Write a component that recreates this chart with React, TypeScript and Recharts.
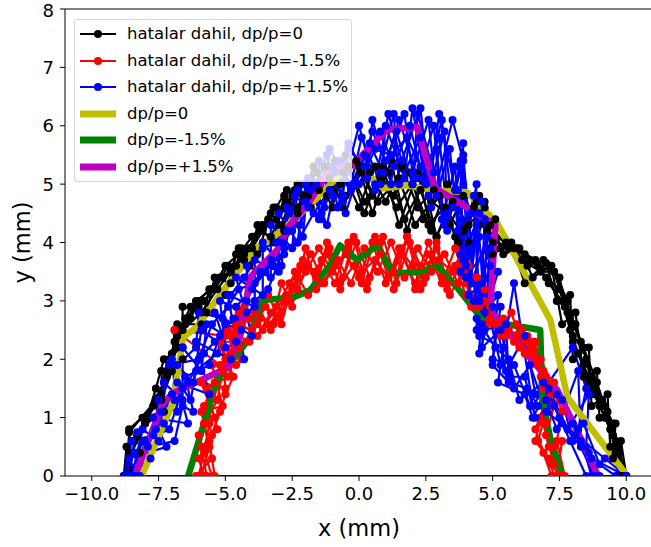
import React from 'react';
import { LineChart, Line, XAxis, YAxis, ReferenceLine } from 'recharts';

// reference curves (no errors)
const yellowRef = [
  [-8.13, 0], [-6.96, 1.25], [-6.58, 2.38], [-6.07, 2.55], [-5.08, 3.18], [-3.81, 3.92],
  [-3.21, 4.09], [-2.65, 4.3], [-1.45, 4.81], [-0.33, 5.36], [0.04, 5.29], [0.9, 4.93],
  [1.8, 4.98], [2.66, 4.9], [4.05, 4.86], [5.17, 4.33], [7.16, 2.67], [7.8, 1.35], [10.04, 0],
];
const greenRef = [
  [-6.39, 0], [-5.31, 1.64], [-4.45, 2.15], [-4.07, 2.38], [-3.63, 3.01], [-2.47, 3.06],
  [-1.83, 3.18], [-1.08, 3.61], [-0.71, 3.95], [-0.07, 3.7], [0.68, 3.95], [1.28, 3.47],
  [2.17, 3.49], [2.96, 3.59], [3.67, 3.23], [4.64, 2.67], [6.78, 2.5], [6.86, 1.3],
  [7.15, 0.66], [7.6, 0],
];
const magentaRef = [
  [-8.38, 0], [-7.33, 1.25], [-6.96, 1.42], [-4.94, 1.85], [-4.45, 2.38], [-4.07, 3.41],
  [-3.06, 3.87], [-2.65, 4.26], [-1.83, 4.72], [-1.08, 5.24], [-0.22, 5.33], [1.05, 5.93],
  [2.17, 5.98], [2.85, 4.93], [3.79, 4.67], [5.1, 4.3], [4.91, 2.83], [7.42, 1.47],
  [8.39, 0.56], [8.95, 0],
];

// runs with errors, dp/p = 0
const blackRuns = [
  [[-8.7,0],[-8.6,0.75],[-7.5,1.35],[-7.2,1.8],[-6.9,2.3],[-6.5,2.6],[-6.1,3.0],[-5.5,3.2],[-5.0,3.6],[-4.5,3.8],[-4.0,4.1],[-3.6,4.3],[-3.1,4.6],[-2.7,4.9],[-2.1,4.8],[-1.6,5.2],[-1.0,4.9],[-0.4,5.3],[0.2,4.7],[0.8,5.1],[1.4,4.6],[2.0,5.0],[2.6,4.3],[3.2,4.6],[3.8,4.2],[4.4,4.7],[5.0,4.0],[5.7,3.95],[6.3,3.6],[6.9,3.7],[7.5,3.4],[7.8,2.8],[8.0,2.3],[8.4,1.9],[8.8,1.5],[9.2,1.0],[9.6,0.6],[9.8,0]],
  [[-8.6,0],[-8.4,0.6],[-7.7,1.2],[-7.3,1.6],[-7.0,2.1],[-6.6,2.5],[-5.9,2.8],[-5.3,3.2],[-4.8,3.5],[-4.3,3.8],[-3.7,4.2],[-3.3,4.1],[-2.8,4.6],[-2.4,4.9],[-1.9,4.8],[-1.3,5.3],[-0.7,5.0],[-0.1,5.4],[0.5,4.8],[1.1,5.2],[1.7,4.4],[2.3,4.9],[2.9,4.1],[3.5,4.7],[4.1,4.3],[4.7,4.6],[5.3,3.9],[5.9,3.9],[6.6,3.7],[7.1,3.3],[7.6,3.0],[7.9,2.5],[8.2,2.1],[8.6,1.6],[9.0,1.2],[9.4,0.8],[9.7,0.4],[9.9,0]],
  [[-8.8,0],[-8.5,0.4],[-7.9,1.0],[-7.4,1.4],[-7.1,1.9],[-6.8,2.4],[-6.3,2.9],[-5.8,3.0],[-5.1,3.4],[-4.6,3.6],[-4.1,3.9],[-3.6,4.3],[-3.1,4.4],[-2.7,4.7],[-2.3,4.6],[-1.8,5.1],[-1.2,4.8],[-0.6,5.2],[0.0,4.6],[0.6,5.3],[1.3,4.8],[1.9,5.2],[2.4,4.4],[3.0,4.8],[3.6,4.1],[4.2,4.5],[4.8,4.2],[5.5,4.0],[6.1,3.7],[6.8,3.5],[7.3,3.5],[7.7,2.9],[8.1,2.6],[8.5,2.0],[8.8,1.4],[9.3,1.1],[9.6,0.4],[9.7,0]],
  [[-8.7,0],[-8.3,0.7],[-7.6,1.3],[-7.2,1.7],[-6.8,2.2],[-6.5,2.7],[-6.0,2.9],[-5.4,3.2],[-4.9,3.6],[-4.3,3.7],[-3.9,4.1],[-3.4,4.4],[-2.9,4.3],[-2.5,4.8],[-2.0,5.0],[-1.5,4.9],[-0.9,5.4],[-0.3,4.9],[0.4,5.2],[1.0,4.7],[1.6,5.3],[2.2,4.6],[2.8,4.9],[3.4,4.3],[3.9,4.8],[4.5,4.3],[5.1,4.4],[5.8,3.9],[6.4,3.7],[7.0,3.4],[7.5,3.2],[7.9,2.7],[8.3,2.3],[8.7,1.7],[9.1,1.3],[9.5,0.9],[9.7,0.5],[10.0,0]],
  [[-8.5,0],[-8.6,0.8],[-7.4,1.3],[-7.0,1.8],[-6.9,2.5],[-6.3,2.7],[-6.0,3.0],[-5.2,3.4],[-4.8,3.5],[-4.5,3.9],[-4.0,3.9],[-3.6,4.2],[-3.2,4.6],[-2.6,4.5],[-2.1,5.0],[-1.7,5.0],[-1.1,5.1],[-0.5,4.8],[0.1,5.2],[0.7,4.7],[1.5,5.1],[2.1,4.3],[2.7,4.7],[3.3,4.5],[3.7,4.0],[4.3,4.6],[4.9,4.3],[5.6,3.9],[6.2,3.8],[6.7,3.6],[7.3,3.5],[7.8,3.0],[8.0,2.4],[8.4,2.2],[8.9,1.6],[9.2,1.2],[9.5,0.7],[9.8,0]],
  [[-8.8,0],[-8.7,0.5],[-8.0,0.9],[-7.6,1.5],[-7.3,2.0],[-6.6,2.2],[-6.6,2.9],[-5.7,2.8],[-5.4,3.4],[-4.8,3.3],[-4.4,3.9],[-3.8,3.8],[-3.3,4.5],[-2.8,4.2],[-2.3,5.0],[-1.8,4.6],[-1.2,5.3],[-0.6,4.6],[0.0,5.3],[0.5,4.5],[1.2,5.4],[1.8,4.2],[2.4,5.1],[2.9,4.1],[3.6,4.9],[4.1,4.0],[4.7,4.7],[5.4,3.8],[6.0,3.9],[6.5,3.4],[7.2,3.6],[7.6,2.6],[8.1,2.8],[8.4,1.7],[8.9,1.8],[9.0,1.0],[9.6,0.9],[9.5,0.3],[9.9,0]],
  [[-8.6,0],[-8.2,0.4],[-8.1,1.0],[-7.3,1.1],[-7.4,1.8],[-6.6,2.0],[-6.8,2.6],[-5.9,2.6],[-5.6,3.2],[-5.0,3.1],[-4.6,3.8],[-4.1,3.6],[-3.8,4.3],[-3.2,4.0],[-2.8,4.8],[-2.3,4.5],[-1.7,5.3],[-1.0,4.6],[-0.5,5.5],[0.2,4.5],[0.9,5.3],[1.5,4.3],[2.2,5.2],[2.7,4.2],[3.3,5.0],[3.9,4.2],[4.5,4.8],[5.0,3.8],[5.7,4.0],[6.2,3.3],[7.0,3.65],[7.4,3.0],[7.9,3.1],[8.0,2.0],[8.6,2.2],[8.7,1.2],[9.3,1.4],[9.4,0.5],[9.8,0.6],[10.0,0]],
];

// runs with errors, dp/p = -1.5%
const redRuns = [
  [[-6.0,0],[-5.8,0.4],[-5.6,0.9],[-5.5,1.4],[-5.2,1.9],[-6.9,2.5],[-5.0,2.4],[-4.6,2.5],[-4.1,2.7],[-3.6,2.5],[-3.1,2.9],[-2.6,3.3],[-2.1,3.7],[-1.6,3.4],[-1.1,3.9],[-0.6,3.4],[-0.1,4.0],[0.4,3.4],[0.9,4.1],[1.4,3.3],[1.9,4.0],[2.4,3.3],[2.9,3.9],[3.4,3.1],[3.9,3.5],[4.3,3.0],[4.8,2.8],[5.4,2.6],[5.9,2.4],[6.4,2.2],[6.9,1.8],[7.2,1.4],[7.0,0.9],[7.3,0.5],[7.5,0]],
  [[-5.7,0],[-5.9,0.5],[-5.3,0.8],[-5.7,1.5],[-4.9,1.7],[-4.5,2.2],[-4.4,2.6],[-3.8,2.4],[-3.3,2.8],[-2.8,3.0],[-2.3,3.4],[-1.8,3.8],[-1.3,3.3],[-0.8,3.7],[-0.3,3.3],[0.2,3.9],[0.7,3.5],[1.2,4.0],[1.7,3.4],[2.2,3.9],[2.7,3.5],[3.2,3.8],[3.7,3.3],[4.1,3.6],[4.5,2.9],[5.1,2.6],[5.6,2.5],[6.2,2.3],[6.6,2.0],[7.1,1.5],[6.8,1.0],[6.6,0.6],[7.1,0.3],[7.3,0]],
  [[-5.4,0],[-5.6,0.6],[-5.2,1.1],[-5.0,1.4],[-4.7,1.7],[-5.2,2.3],[-4.2,2.3],[-3.9,2.8],[-3.4,2.6],[-2.9,2.8],[-2.5,3.2],[-2.0,3.5],[-1.5,3.9],[-1.0,3.5],[-0.5,3.8],[0.0,3.4],[0.5,4.0],[1.0,3.3],[1.6,3.8],[2.1,3.3],[2.6,4.0],[3.1,3.4],[3.6,3.6],[4.0,3.1],[4.4,3.4],[4.9,2.7],[5.4,2.5],[5.9,2.6],[6.3,2.1],[6.8,2.0],[7.2,1.6],[7.6,1.1],[7.4,0.6],[7.7,0]],
  [[-6.1,0],[-5.5,0.3],[-5.8,0.9],[-5.3,1.3],[-5.1,1.8],[-4.8,2.1],[-4.6,2.6],[-4.0,2.5],[-3.5,2.9],[-3.0,2.7],[-2.6,3.0],[-2.2,3.6],[-1.7,3.5],[-1.2,3.8],[-0.7,3.3],[-0.2,3.6],[0.3,3.3],[0.8,3.8],[1.3,3.5],[1.8,4.1],[2.3,3.6],[2.8,3.7],[3.3,3.2],[3.8,3.6],[4.2,3.3],[4.7,3.0],[5.2,2.6],[5.8,2.3],[6.3,2.4],[6.7,1.9],[7.0,1.3],[6.6,0.8],[6.9,0.4],[7.2,0]],
  [[-5.8,0],[-6.0,0.3],[-5.5,0.7],[-5.8,1.2],[-5.4,1.6],[-5.0,2.0],[-4.7,2.4],[-4.3,2.9],[-3.7,2.7],[-3.2,2.6],[-2.7,3.1],[-2.3,3.2],[-1.9,3.6],[-1.4,3.3],[-0.9,3.6],[-0.4,3.9],[0.1,3.5],[0.6,3.7],[1.1,3.4],[1.5,3.9],[2.0,3.6],[2.5,3.4],[3.0,3.7],[3.5,3.5],[4.0,3.4],[4.4,2.9],[4.9,2.9],[5.5,2.4],[6.1,2.5],[6.5,2.2],[7.0,1.7],[7.3,1.2],[7.0,0.7],[7.3,0.2],[7.6,0]],
  [[-5.9,0],[-5.6,0.5],[-5.9,1.1],[-5.1,1.2],[-5.5,1.9],[-4.6,1.9],[-4.9,2.5],[-4.1,2.3],[-3.9,3.0],[-3.3,2.5],[-2.9,3.3],[-2.5,2.9],[-2.0,3.9],[-1.6,3.2],[-1.2,4.0],[-0.7,3.2],[-0.2,4.1],[0.3,3.2],[0.8,4.0],[1.3,3.2],[1.8,4.1],[2.3,3.2],[2.9,4.0],[3.3,3.3],[3.8,3.8],[4.2,2.9],[4.7,3.2],[5.3,2.4],[5.7,2.8],[6.2,2.1],[6.6,2.3],[6.9,1.5],[7.5,1.3],[6.9,0.9],[7.1,0.5],[7.6,0.6],[7.4,0]],
  [[-5.5,0],[-6.0,0.7],[-5.4,1.0],[-5.9,1.6],[-5.0,1.5],[-5.1,2.2],[-4.4,2.0],[-4.5,2.8],[-3.8,2.6],[-3.4,3.1],[-2.9,2.6],[-2.4,3.5],[-1.9,3.1],[-1.4,3.7],[-0.9,3.3],[-0.4,4.0],[0.1,3.3],[0.6,4.1],[1.1,3.4],[1.6,3.9],[2.1,3.2],[2.6,3.8],[3.1,3.3],[3.6,3.9],[4.0,3.3],[4.4,3.4],[4.8,2.6],[5.4,2.7],[6.0,2.2],[6.5,2.3],[6.8,1.7],[7.3,1.6],[7.0,1.1],[6.7,0.6],[7.2,0.2],[7.5,0]],
];

// runs with errors, dp/p = +1.5%
const blueRuns = [
  [[-8.7,0],[-8.3,0.75],[-7.4,1.1],[-7.1,1.9],[-6.0,2.0],[-5.5,2.6],[-4.9,2.9],[-4.5,3.2],[-3.9,3.3],[-3.3,3.7],[-2.8,3.8],[-2.4,4.8],[-1.9,4.6],[-1.2,5.5],[-0.8,4.6],[0.0,6.0],[0.6,5.0],[1.1,6.2],[1.6,5.4],[2.3,6.3],[2.7,4.6],[3.5,6.1],[3.9,5.4],[4.1,3.4],[4.4,4.3],[4.4,2.5],[4.6,3.3],[5.3,1.9],[5.8,3.3],[6.5,1.2],[8.0,2.2],[8.5,1.5],[8.2,0.8],[8.7,0]],
  [[-8.5,0],[-7.9,0.5],[-6.9,0.6],[-6.6,1.2],[-6.2,1.1],[-6.5,1.7],[-5.6,1.9],[-5.2,2.4],[-4.7,2.7],[-4.2,3.0],[-3.7,3.5],[-3.2,3.6],[-2.7,4.2],[-2.2,4.3],[-1.6,5.0],[-1.0,4.8],[-0.4,5.6],[0.2,5.3],[0.8,5.9],[1.3,5.3],[1.9,6.0],[2.4,5.1],[3.0,5.8],[3.3,4.5],[3.9,5.0],[4.1,3.8],[4.7,4.4],[4.5,2.1],[5.0,2.9],[5.5,1.8],[6.2,2.4],[6.6,1.4],[7.3,1.2],[7.9,0.6],[8.5,0]],
  [[-8.2,0],[-8.4,0.4],[-7.6,0.8],[-7.0,1.4],[-6.8,1.9],[-6.1,2.2],[-6.0,2.8],[-5.1,2.7],[-4.8,3.1],[-4.3,3.4],[-3.6,3.9],[-3.1,4.0],[-2.6,4.5],[-2.0,4.7],[-1.4,4.4],[-0.9,5.2],[-0.3,4.9],[0.4,5.7],[0.9,5.2],[1.5,6.1],[2.2,5.1],[2.8,6.0],[3.1,4.4],[3.6,5.3],[3.8,3.8],[4.3,4.8],[4.5,3.0],[4.9,3.6],[4.6,2.2],[5.3,2.5],[5.8,1.5],[6.4,1.9],[7.0,1.1],[7.6,0.9],[8.3,0.5],[8.8,0]],
  [[-8.6,0],[-7.8,0.3],[-7.3,0.9],[-6.9,1.3],[-6.4,1.6],[-5.8,2.1],[-5.4,2.3],[-4.3,2.0],[-4.6,2.9],[-4.0,3.2],[-3.5,3.5],[-2.9,4.0],[-2.5,4.2],[-1.8,4.9],[-1.2,4.3],[-0.7,5.4],[-0.1,5.0],[0.5,5.9],[1.0,5.4],[1.7,6.2],[2.0,5.2],[2.6,6.1],[2.9,4.8],[3.4,5.6],[3.7,4.2],[4.2,4.5],[4.0,3.4],[4.8,3.9],[4.4,2.7],[5.1,2.2],[5.6,2.0],[6.0,1.3],[6.9,1.6],[7.5,1.0],[8.1,0.7],[9.2,0.3],[10.0,0],[-8.6,0]],
  [[-8.4,0],[-8.0,0.6],[-7.1,0.8],[-6.6,1.5],[-6.3,1.3],[-6.1,1.8],[-5.3,2.1],[-5.0,2.6],[-4.4,2.5],[-3.9,3.0],[-3.4,3.2],[-2.8,3.9],[-2.3,4.0],[-1.7,4.5],[-1.1,4.9],[-0.6,4.7],[0.0,5.0],[0.6,5.6],[1.2,5.5],[1.8,5.8],[2.3,5.3],[2.9,5.6],[3.2,4.3],[3.7,4.9],[4.0,3.6],[4.5,4.1],[4.7,2.8],[5.2,3.1],[5.0,1.9],[5.6,1.6],[6.3,1.5],[6.7,1.2],[7.4,1.4],[8.0,0.9],[8.6,0.4],[9.0,0]],
  [[-8.8,0],[-8.5,0.6],[-7.7,0.7],[-7.5,1.3],[-6.8,1.1],[-7.0,2.0],[-6.2,1.6],[-5.9,2.5],[-5.0,2.2],[-5.2,3.0],[-4.2,2.8],[-4.2,3.6],[-3.3,3.4],[-3.3,4.3],[-2.5,3.9],[-2.3,4.9],[-1.5,4.4],[-1.5,5.4],[-0.6,4.8],[-0.4,5.7],[0.3,5.1],[0.5,6.1],[1.2,5.0],[1.4,5.9],[2.0,5.0],[2.2,6.2],[2.8,5.2],[3.2,5.9],[3.3,4.2],[3.9,5.5],[4.2,3.9],[4.6,4.7],[4.3,3.0],[4.9,3.9],[4.7,2.5],[5.5,2.6],[5.6,1.7],[6.2,1.7],[6.6,1.0],[7.6,1.3],[8.0,0.6],[8.4,0.9],[9.0,0.2],[9.6,0]],
  [[-8.3,0],[-8.6,0.3],[-7.2,0.5],[-7.7,1.0],[-6.4,0.9],[-6.8,1.6],[-5.6,1.4],[-6.1,2.3],[-4.8,2.0],[-5.4,2.8],[-4.0,2.4],[-4.6,3.4],[-3.6,3.1],[-3.6,4.0],[-2.9,3.6],[-2.7,4.6],[-2.1,4.1],[-1.9,5.1],[-1.3,4.6],[-1.1,5.6],[-0.3,5.0],[0.1,5.8],[0.8,5.0],[1.0,6.0],[1.7,5.1],[2.0,6.3],[2.5,5.0],[3.1,6.1],[3.5,4.6],[3.8,5.4],[3.9,3.7],[4.5,4.5],[4.1,3.1],[5.2,3.5],[4.5,2.4],[5.4,2.2],[5.2,1.6],[6.2,1.4],[6.5,1.0],[7.1,1.5],[7.8,0.8],[8.6,1.4],[8.5,0.5],[8.9,0]],
  [[-8.5,0],[-8.1,0.8],[-7.5,0.6],[-7.3,1.6],[-6.6,1.3],[-6.6,2.2],[-5.9,1.8],[-5.7,2.6],[-4.6,2.3],[-4.9,3.1],[-3.9,2.9],[-3.9,3.7],[-3.0,3.5],[-3.0,4.5],[-2.3,4.0],[-2.0,5.0],[-1.4,4.5],[-1.0,5.3],[-0.5,4.5],[0.2,5.5],[0.6,4.9],[1.3,6.2],[1.5,5.0],[2.3,5.8],[2.6,4.8],[3.0,6.2],[3.6,4.9],[3.9,5.7],[3.8,3.5],[4.4,5.0],[4.2,3.3],[4.8,4.1],[4.6,2.6],[5.3,2.9],[5.0,2.0],[5.8,1.9],[6.4,1.2],[7.0,1.3],[7.4,0.8],[8.2,1.8],[8.3,0.6],[8.7,0.3],[10.0,0]],
];

const xTicks = [-10, -7.5, -5, -2.5, 0, 2.5, 5, 7.5, 10];
const yTicks = [0, 1, 2, 3, 4, 5, 6, 7, 8];

const legendItems = [
  { label: 'hatalar dahil, dp/p=0', color: '#000000', marker: true },
  { label: 'hatalar dahil, dp/p=-1.5%', color: '#ff0000', marker: true },
  { label: 'hatalar dahil, dp/p=+1.5%', color: '#0000ff', marker: true },
  { label: 'dp/p=0', color: '#bfbf00', marker: false },
  { label: 'dp/p=-1.5%', color: '#008000', marker: false },
  { label: 'dp/p=+1.5%', color: '#bf00bf', marker: false },
];

const FONT = '"DejaVu Sans", sans-serif';
const toPts = (arr: number[][]) => arr.map(([x, y]) => ({ x, y }));
const fmtX = (v: number) => v.toFixed(1).replace('-', '\u2212');

const YLabel = (props: any) => {
  const vb = props.viewBox || { y: 9, height: 467 };
  const cx = 22;
  const cy = vb.y + vb.height / 2;
  return (
    <text x={cx} y={cy} transform={`rotate(-90, ${cx}, ${cy})`} textAnchor="middle"
      dominantBaseline="central" fontFamily={FONT} fontSize={22.5} fill="#000">y (mm)</text>
  );
};

const XLabel = () => (
  <text x={359} y={536} textAnchor="middle" fontFamily={FONT} fontSize={22.5} fill="#000">x (mm)</text>
);

function runLines(runs: number[][][], color: string, prefix: string) {
  return runs.map((run, i) => (
    <Line
      key={prefix + i}
      data={toPts(run)}
      dataKey="y"
      type="linear"
      stroke={color}
      strokeWidth={2.2}
      dot={{ r: 4, fill: color, stroke: 'none' }}
      activeDot={false}
      isAnimationActive={false}
    />
  ));
}

function refLine(pts: number[][], color: string, key: string) {
  return (
    <Line
      key={key}
      data={toPts(pts)}
      dataKey="y"
      type="linear"
      stroke={color}
      strokeWidth={6.5}
      strokeLinejoin="round"
      dot={false}
      activeDot={false}
      isAnimationActive={false}
    />
  );
}

function ChartLegend() {
  return (
    <div style={{
      position: 'absolute', left: 74, top: 19, width: 278, height: 163, boxSizing: 'border-box',
      background: 'rgba(255,255,255,0.8)', border: '1px solid rgba(204,204,204,0.8)', borderRadius: 4,
      fontFamily: FONT, fontSize: 16.5, color: '#000',
    }}>
      {legendItems.map((it, i) => (
        <div key={it.label} style={{ position: 'absolute', left: 0, top: 14 + i * 26.6 - 12, height: 24, width: 276 }}>
          <svg width={40} height={24} style={{ position: 'absolute', left: 4, top: 0 }}>
            <line x1={1} x2={37} y1={12} y2={12} stroke={it.color} strokeWidth={it.marker ? 2 : 7} />
            {it.marker && <circle cx={19} cy={12} r={4} fill={it.color} />}
          </svg>
          <span style={{ position: 'absolute', left: 52, top: 0, lineHeight: '24px', whiteSpace: 'nowrap' }}>{it.label}</span>
        </div>
      ))}
    </div>
  );
}

export default function App() {
  return (
    <div style={{ position: 'absolute', left: 0, top: 0, width: 651, height: 547, overflow: 'hidden', background: '#fff' }}>
      <LineChart width={660} height={547} margin={{ top: 9, right: 7, left: 15, bottom: 0 }}>
        <XAxis
          type="number"
          dataKey="x"
          domain={[-11, 11]}
          ticks={xTicks}
          tickFormatter={fmtX}
          allowDataOverflow
          height={71}
          stroke="#000"
          tickSize={5}
          tickMargin={6}
          tick={{ fill: '#000', fontSize: 18, fontFamily: FONT }}
          label={<XLabel />}
        />
        <YAxis
          type="number"
          domain={[0, 8]}
          ticks={yTicks}
          allowDataOverflow
          width={50}
          stroke="#000"
          tickSize={5}
          tickMargin={6}
          tick={{ fill: '#000', fontSize: 18, fontFamily: FONT }}
          label={<YLabel />}
        />
        {runLines(blackRuns, '#000000', 'k')}
        {runLines(redRuns, '#ff0000', 'r')}
        {runLines(blueRuns, '#0000ff', 'b')}
        {refLine(yellowRef, '#bfbf00', 'y0')}
        {refLine(greenRef, '#008000', 'g0')}
        {refLine(magentaRef, '#bf00bf', 'm0')}
        <ReferenceLine y={8} stroke="#000" strokeWidth={1} ifOverflow="visible" />
      </LineChart>
      <ChartLegend />
    </div>
  );
}
